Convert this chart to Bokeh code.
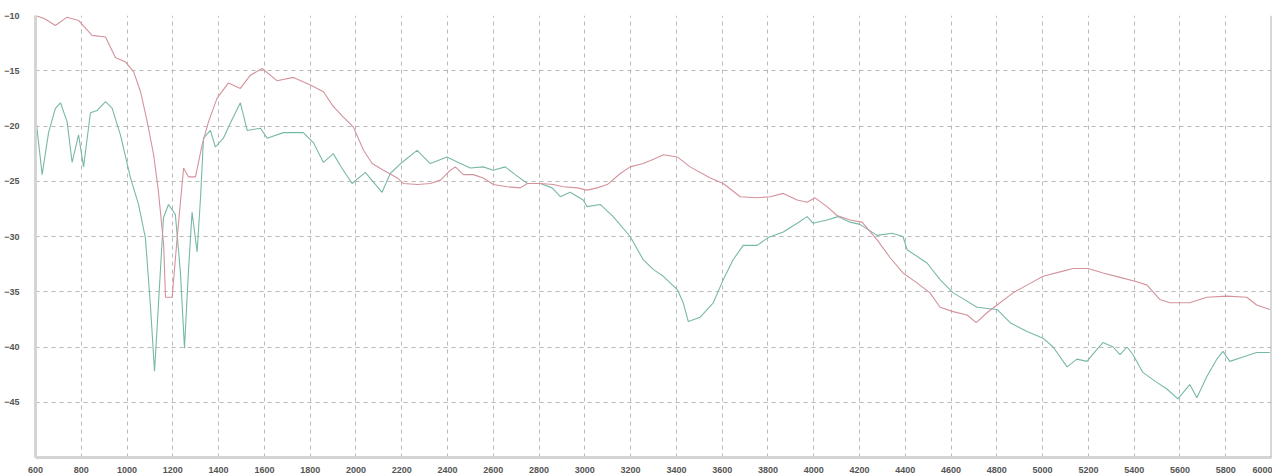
from bokeh.plotting import figure
from bokeh.models import FixedTicker, Range1d, Span
from bokeh.embed import file_html
from bokeh.resources import INLINE

red_freq = [600, 640, 687, 738, 788, 847, 906, 949, 993, 1029, 1059, 1088, 1116, 1137, 1160, 1168, 1197,
            1219, 1247, 1268, 1299, 1328, 1356, 1393, 1443, 1495, 1539, 1590, 1655, 1727, 1801, 1858,
            1900, 1945, 1989, 2033, 2071, 2120, 2181, 2207, 2268, 2325, 2369, 2413, 2434, 2469, 2513,
            2556, 2600, 2661, 2718, 2749, 2806, 2862, 2906, 2967, 3010, 3054, 3098, 3155, 3198, 3255,
            3300, 3343, 3404, 3460, 3548, 3605, 3679, 3753, 3810, 3867, 3928, 3971, 4006, 4058, 4102,
            4159, 4211, 4277, 4333, 4390, 4451, 4508, 4552, 4609, 4670, 4710, 4757, 4801, 4871, 4932,
            5002, 5076, 5133, 5199, 5264, 5338, 5412, 5456, 5512, 5556, 5643, 5717, 5805, 5892, 5935,
            5993]
red_db = [-10.0, -10.3, -10.9, -10.15, -10.45, -11.8, -11.95, -13.8, -14.2, -15.1, -16.9, -19.6, -22.6,
          -25.9, -30.8, -35.5, -35.5, -30.1, -23.8, -24.6, -24.6, -21.7, -19.6, -17.5, -16.1, -16.6,
          -15.4, -14.8, -15.9, -15.6, -16.3, -16.9, -18.2, -19.2, -20.1, -22.2, -23.4, -24.0, -24.7,
          -25.2, -25.3, -25.2, -24.9, -24.0, -23.7, -24.4, -24.4, -24.7, -25.3, -25.5, -25.6, -25.2,
          -25.2, -25.3, -25.5, -25.6, -25.8, -25.6, -25.3, -24.3, -23.7, -23.4, -23.0, -22.6, -22.8,
          -23.7, -24.7, -25.2, -26.4, -26.5, -26.4, -26.1, -26.7, -26.9, -26.5, -27.3, -28.1, -28.5,
          -28.7, -30.3, -31.9, -33.3, -34.2, -35.1, -36.4, -36.8, -37.1, -37.8, -36.9, -36.2, -35.1,
          -34.4, -33.6, -33.2, -32.9, -32.9, -33.3, -33.7, -34.1, -34.4, -35.7, -36.0, -36.0, -35.5,
          -35.4, -35.5, -36.2, -36.6]

teal_freq = [600, 629, 657, 687, 709, 738, 760, 788, 810, 840, 869, 906, 935, 971, 1015, 1050, 1080,
             1102, 1120, 1137, 1159, 1181, 1211, 1233, 1251, 1268, 1284, 1306, 1321, 1334, 1364, 1386,
             1421, 1452, 1495, 1525, 1583, 1612, 1683, 1770, 1814, 1858, 1901, 1932, 1983, 2041, 2114,
             2150, 2201, 2267, 2325, 2398, 2447, 2500, 2556, 2600, 2652, 2696, 2749, 2806, 2857, 2893,
             2936, 2993, 3010, 3067, 3124, 3198, 3255, 3300, 3343, 3404, 3430, 3452, 3504, 3561, 3605,
             3648, 3692, 3753, 3801, 3867, 3928, 3971, 3997, 4058, 4106, 4159, 4202, 4277, 4342, 4390,
             4408, 4495, 4552, 4609, 4650, 4713, 4801, 4858, 4932, 5002, 5046, 5107, 5150, 5194, 5238,
             5264, 5308, 5338, 5369, 5395, 5438, 5499, 5543, 5591, 5643, 5674, 5717, 5761, 5788, 5818,
             5875, 5935, 5993]
teal_db = [-19.0, -24.4, -20.6, -18.4, -17.9, -19.6, -23.3, -20.8, -23.7, -18.8, -18.6, -17.8, -18.4,
           -20.8, -24.7, -27.1, -30.1, -36.2, -42.2, -36.2, -28.3, -27.1, -28.0, -33.2, -40.1, -33.2,
           -27.8, -31.4, -26.5, -21.1, -20.4, -21.9, -21.1, -19.7, -17.9, -20.4, -20.2, -21.1, -20.6,
           -20.6, -21.5, -23.3, -22.5, -23.6, -25.2, -24.2, -26.0, -24.3, -23.3, -22.2, -23.4, -22.8,
           -23.3, -23.8, -23.7, -24.0, -23.7, -24.4, -25.2, -25.2, -25.6, -26.4, -26.0, -26.7, -27.3,
           -27.1, -28.2, -30.0, -32.1, -33.0, -33.6, -34.8, -36.0, -37.7, -37.3, -36.0, -33.9, -32.1,
           -30.8, -30.8, -30.1, -29.6, -28.8, -28.2, -28.8, -28.5, -28.2, -28.7, -28.9, -29.9, -29.7,
           -30.0, -31.2, -32.4, -33.9, -35.1, -35.6, -36.4, -36.6, -37.8, -38.6, -39.2, -40.0, -41.8,
           -41.1, -41.3, -40.2, -39.6, -40.0, -40.7, -40.0, -40.7, -42.3, -43.2, -43.8, -44.7, -43.4,
           -44.6, -42.7, -41.1, -40.4, -41.3, -40.9, -40.5, -40.5]

x_ticks = list(range(600, 6001, 200))
y_ticks = [-45, -40, -35, -30, -25, -20, -15, -10]
y_grid = [-50, -45, -40, -35, -30, -25, -20, -15, -10]

p = figure(width=1272, height=475, output_backend="svg", toolbar_location=None,
           x_range=Range1d(600, 6000), y_range=Range1d(-50, -10),
           min_border_left=35, min_border_right=1, min_border_top=15, min_border_bottom=0,
           background_fill_color="white", border_fill_color="white")
p.outline_line_color = None

p.line(teal_freq, teal_db, line_color="#78b8a9", line_width=1.1)
p.line(red_freq, red_db, line_color="#d4929a", line_width=1.1)

p.xaxis.ticker = FixedTicker(ticks=x_ticks)
p.yaxis.ticker = FixedTicker(ticks=y_ticks)
p.xgrid.ticker = FixedTicker(ticks=x_ticks)
p.ygrid.ticker = FixedTicker(ticks=y_grid)

for g in (p.xgrid, p.ygrid):
    g.grid_line_color = "#b8b8b8"
    g.grid_line_dash = "4 4"
    g.grid_line_width = 1

for ax in (p.xaxis, p.yaxis):
    ax.axis_line_color = "#d4d4d4"
    ax.axis_line_width = 3
    ax.major_tick_line_color = None
    ax.minor_tick_line_color = None
    ax.major_label_text_font = "Liberation Sans"
    ax.major_label_text_font_size = "9px"
    ax.major_label_text_font_style = "bold"
    ax.major_label_text_color = "#555555"

p.yaxis.major_label_standoff = 10
p.xaxis.major_label_standoff = 3

p.add_layout(Span(location=6000, dimension="height", line_color="#b0b0b0", line_width=2))

open("out.html", "w").write(file_html(p, INLINE))
